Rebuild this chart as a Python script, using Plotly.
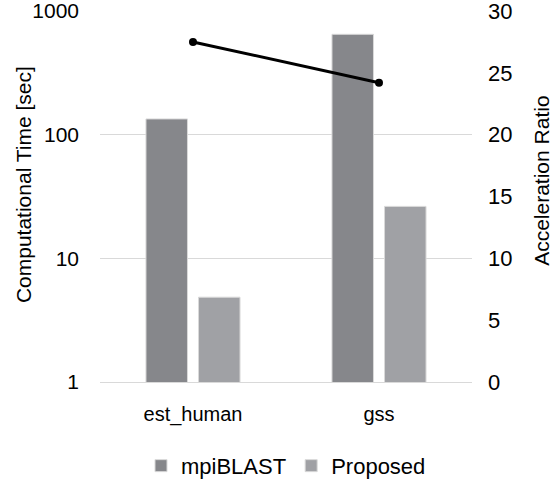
import plotly.graph_objects as go

categories = ["est_human", "gss"]
mpiblast = [134, 648]
proposed = [4.85, 26.3]
accel_ratio = [27.5, 24.2]

FONT = "Liberation Sans, Arial, sans-serif"

fig = go.Figure()
fig.add_trace(go.Bar(
    x=categories, y=mpiblast, name="mpiBLAST",
    marker=dict(color="#86878b", line=dict(color="#d9d9d9", width=1)),
))
fig.add_trace(go.Bar(
    x=categories, y=proposed, name="Proposed",
    marker=dict(color="#a0a1a5", line=dict(color="#d9d9d9", width=1)),
))
fig.add_trace(go.Scatter(
    x=categories, y=accel_ratio, yaxis="y2", mode="lines+markers",
    line=dict(color="black", width=3), marker=dict(color="black", size=8),
    showlegend=False,
))

fig.update_layout(
    width=557, height=480,
    margin=dict(l=100, r=85, t=11, b=98, autoexpand=False),
    paper_bgcolor="white", plot_bgcolor="white",
    font=dict(family=FONT, size=20, color="black"),
    barmode="group", bargap=0.435, bargroupgap=0.21,
    xaxis=dict(
        showline=True, linecolor="#d9d9d9", linewidth=1, automargin=False,
        ticks="", ticklabelstandoff=14, tickfont=dict(size=20),
    ),
    yaxis=dict(
        type="log", range=[0, 3], tickvals=[1, 10, 100, 1000],
        ticktext=["1", "10", "100", "1000"], tickfont=dict(size=21),
        showgrid=True, gridcolor="#d9d9d9", gridwidth=1, automargin=False,
        zeroline=False, ticklabelstandoff=20, ticklabeloverflow="allow",
    ),
    yaxis2=dict(
        overlaying="y", side="right", range=[0, 30], dtick=5, automargin=False,
        showgrid=False, zeroline=False, ticklabelstandoff=15, tickfont=dict(size=22),
        ticklabeloverflow="allow",
    ),
    legend=dict(
        orientation="h", x=0.5, xanchor="center", y=-0.226, yanchor="middle",
        font=dict(size=22), bgcolor="rgba(0,0,0,0)",
    ),
    annotations=[
        dict(text="Computational Time [sec]", xref="paper", yref="paper",
             x=-0.204, y=0.531, xanchor="center", yanchor="middle",
             textangle=-90, showarrow=False, font=dict(size=21)),
        dict(text="Acceleration Ratio", xref="paper", yref="paper",
             x=1.188, y=0.542, xanchor="center", yanchor="middle",
             textangle=-90, showarrow=False, font=dict(size=21)),
    ],
)

fig.write_html(
    "out.html",
    config={"displayModeBar": False},
    post_script="document.body.style.margin='0';document.body.style.overflow='hidden';",
)
